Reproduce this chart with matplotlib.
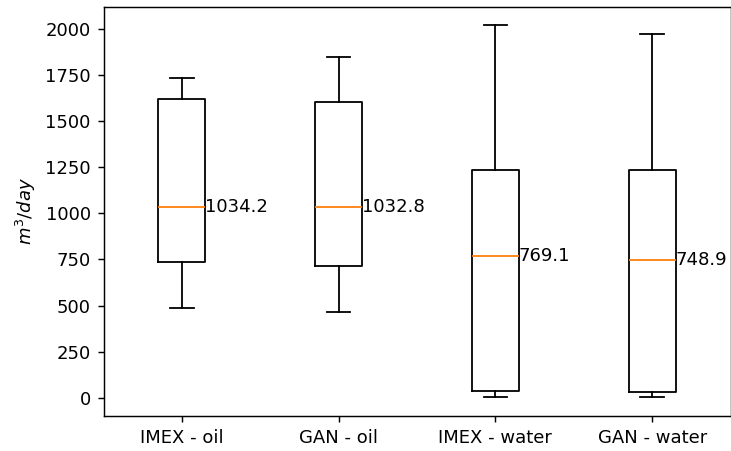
import matplotlib
matplotlib.use("Agg")
import matplotlib.pyplot as plt

categories = ["IMEX - oil", "GAN - oil", "IMEX - water", "GAN - water"]
whisker_low = [489, 465, 1, 1]
q1 = [735, 717, 36, 29]
medians = [1034.2, 1032.8, 769.1, 748.9]
q3 = [1624, 1607, 1234, 1238]
whisker_high = [1738, 1850, 2022, 1973]

stats = []
for i, name in enumerate(categories):
    stats.append(dict(label=name, whislo=whisker_low[i], q1=q1[i], med=medians[i],
                      q3=q3[i], whishi=whisker_high[i], fliers=[]))

dpi = 130
fig = plt.figure(figsize=(731 / dpi, 451 / dpi), dpi=dpi)
ax = fig.add_axes([103.5 / 731, 35 / 451, 627 / 731, (451 - 35 - 6.7) / 451])

width = 0.3
positions = list(range(1, len(categories) + 1))
ax.bxp(stats, positions=positions, widths=width, showfliers=False)

for p, m in zip(positions, medians):
    ax.text(p + width / 2, m, f"{m:.1f}", ha="left", va="center")

ax.set_ylabel(r"$m^3/day$")
ax.set_xlim(0.5, 4.5)

fig.savefig("out.png", dpi=dpi)
